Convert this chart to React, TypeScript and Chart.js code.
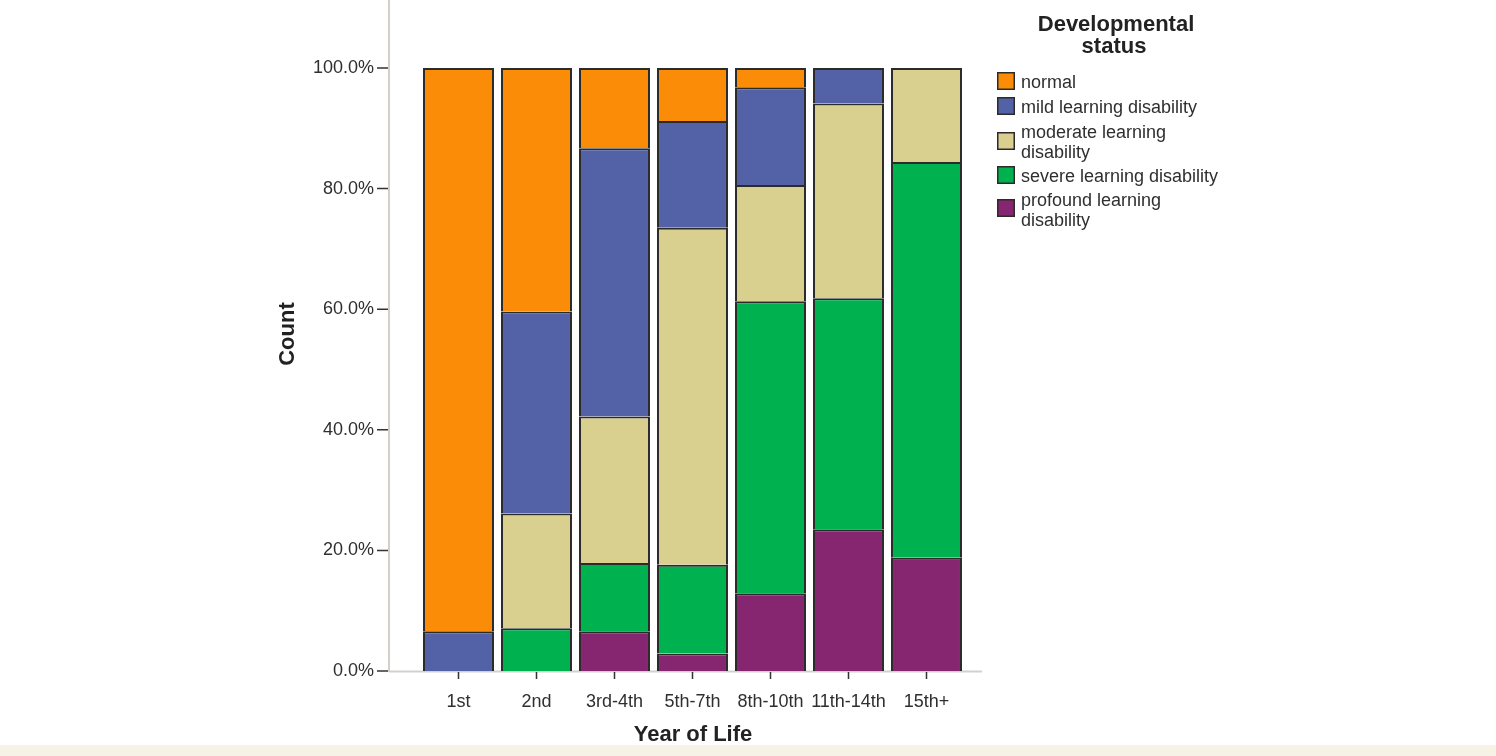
import React, { useEffect, useRef } from "react";
import { Chart, registerables } from "chart.js";

Chart.register(...registerables);

const categories = ["1st", "2nd", "3rd-4th", "5th-7th", "8th-10th", "11th-14th", "15th+"];
const normal = [93.4, 40.4, 13.3, 8.8, 3.2, 0, 0];
const mild = [6.6, 33.5, 44.5, 17.7, 16.2, 5.9, 0];
const moderate = [0, 19.0, 24.3, 55.9, 19.3, 32.3, 15.6];
const severe = [0, 7.1, 11.3, 14.7, 48.4, 38.3, 65.6];
const profound = [0, 0, 6.6, 2.9, 12.9, 23.5, 18.8];
const yTicks = [0, 20, 40, 60, 80, 100];

const seriesNames = [
  "normal",
  "mild learning disability",
  "moderate learning disability",
  "severe learning disability",
  "profound learning disability",
];
const legendLines = [
  ["normal"],
  ["mild learning disability"],
  ["moderate learning", "disability"],
  ["severe learning disability"],
  ["profound learning", "disability"],
];
const colors = ["#fb8c08", "#5362a6", "#d9cf8e", "#00b14f", "#862670"];

const FONT = "'Liberation Sans', Arial, sans-serif";
const TEXT = "#2f2f2f";
const AXIS = "#d6cfc9";

const W = 1496;
const H = 756;
const Y_MAX = 111.28;

export default function App() {
  const ref = useRef<HTMLCanvasElement | null>(null);

  useEffect(() => {
    const canvas = ref.current;
    if (!canvas) return;
    const toNull = (a: number[]) => a.map((v) => (v === 0 ? null : v));
    const values = [normal, mild, moderate, severe, profound];
    // stacking from bottom: profound, severe, moderate, mild, normal
    const order = [4, 3, 2, 1, 0];
    const datasets = order.map((i) => ({
      label: seriesNames[i],
      data: toNull(values[i]) as any,
      backgroundColor: colors[i],
      borderColor: "#2b2b2b",
      borderWidth: 2,
      barPercentage: 0.91,
      categoryPercentage: 1,
    }));

    const decor = {
      id: "decor",
      beforeDraw(chart: any) {
        const ctx = chart.ctx;
        ctx.save();
        ctx.fillStyle = "#ffffff";
        ctx.fillRect(0, 0, W, H);
        ctx.fillStyle = "#f6f3e6";
        ctx.fillRect(0, 745, W, H - 745);
        ctx.restore();
      },
      beforeDatasetsDraw(chart: any) {
        const ctx = chart.ctx;
        const ys = chart.scales.y;
        const y0 = ys.getPixelForValue(0);
        ctx.save();
        ctx.strokeStyle = AXIS;
        ctx.lineWidth = 2;
        ctx.beginPath();
        ctx.moveTo(389, 0);
        ctx.lineTo(389, y0 + 1);
        ctx.moveTo(389, y0 + 0.5);
        ctx.lineTo(982, y0 + 0.5);
        ctx.stroke();
        ctx.restore();
      },
      afterDraw(chart: any) {
        const ctx = chart.ctx;
        const ys = chart.scales.y;
        const xs = chart.scales.x;
        const y0 = ys.getPixelForValue(0);
        ctx.save();
        // tick marks
        ctx.strokeStyle = "#333333";
        ctx.lineWidth = 1.5;
        ctx.beginPath();
        yTicks.forEach((v) => {
          const y = ys.getPixelForValue(v);
          ctx.moveTo(377, y);
          ctx.lineTo(388, y);
        });
        categories.forEach((_, i) => {
          const x = xs.getPixelForValue(i);
          ctx.moveTo(x, y0 + 1);
          ctx.lineTo(x, y0 + 8);
        });
        ctx.stroke();

        // axis titles
        ctx.fillStyle = "#222222";
        ctx.font = `bold 22px ${FONT}`;
        ctx.textAlign = "center";
        ctx.textBaseline = "middle";
        ctx.fillText("Year of Life", 693, 735);
        ctx.save();
        ctx.translate(288, 334);
        ctx.rotate(-Math.PI / 2);
        ctx.fillText("Count", 0, 0);
        ctx.restore();

        // legend
        ctx.fillText("Developmental", 1116, 25);
        ctx.fillText("status", 1114, 47);
        const boxCenters = [81, 106, 141, 175, 208];
        const lineYs = [[83], [108], [133, 153], [177], [201, 221]];
        ctx.font = `18px ${FONT}`;
        ctx.textAlign = "left";
        legendLines.forEach((lines, i) => {
          const cy = boxCenters[i];
          ctx.fillStyle = colors[i];
          ctx.fillRect(997, cy - 9, 18, 18);
          ctx.strokeStyle = "#2b2b2b";
          ctx.lineWidth = 1.5;
          ctx.strokeRect(997.75, cy - 8.25, 16.5, 16.5);
          ctx.fillStyle = TEXT;
          lines.forEach((t, j) => ctx.fillText(t, 1021, lineYs[i][j]));
        });
        ctx.restore();
      },
    };

    const chart = new Chart(canvas, {
      type: "bar",
      data: { labels: categories, datasets },
      options: {
        responsive: false,
        animation: false,
        devicePixelRatio: 1,
        layout: { padding: { left: 0, right: W - 965.5, top: 0, bottom: 0 } },
        plugins: { legend: { display: false }, tooltip: { enabled: false } },
        scales: {
          x: {
            stacked: true,
            offset: true,
            grid: { display: false, drawTicks: false },
            border: { display: false },
            ticks: {
              font: { family: FONT, size: 18 },
              color: TEXT,
              padding: 20,
              maxRotation: 0,
              minRotation: 0,
              autoSkip: false,
            },
            afterFit: (s: any) => {
              s.height = 85;
              s.paddingLeft = 0;
              s.paddingRight = 0;
            },
          },
          y: {
            stacked: true,
            min: 0,
            max: Y_MAX,
            bounds: "data",
            grid: { display: false, drawTicks: false },
            border: { display: false },
            ticks: {
              font: { family: FONT, size: 18 },
              color: TEXT,
              padding: 45.5,
              callback: (v: any) => Number(v).toFixed(1) + "%",
            },
            afterBuildTicks: (s: any) => {
              s.ticks = yTicks.map((v) => ({ value: v }));
            },
            afterFit: (s: any) => {
              s.width = 419.5;
              s.paddingTop = 0;
              s.paddingBottom = 0;
            },
          },
        },
      },
      plugins: [decor],
    });
    return () => chart.destroy();
  }, []);

  return (
    <div style={{ position: "absolute", left: 0, top: 0, width: W, height: H, background: "#fff" }}>
      <canvas ref={ref} width={W} height={H} style={{ display: "block", width: W, height: H }} />
    </div>
  );
}
